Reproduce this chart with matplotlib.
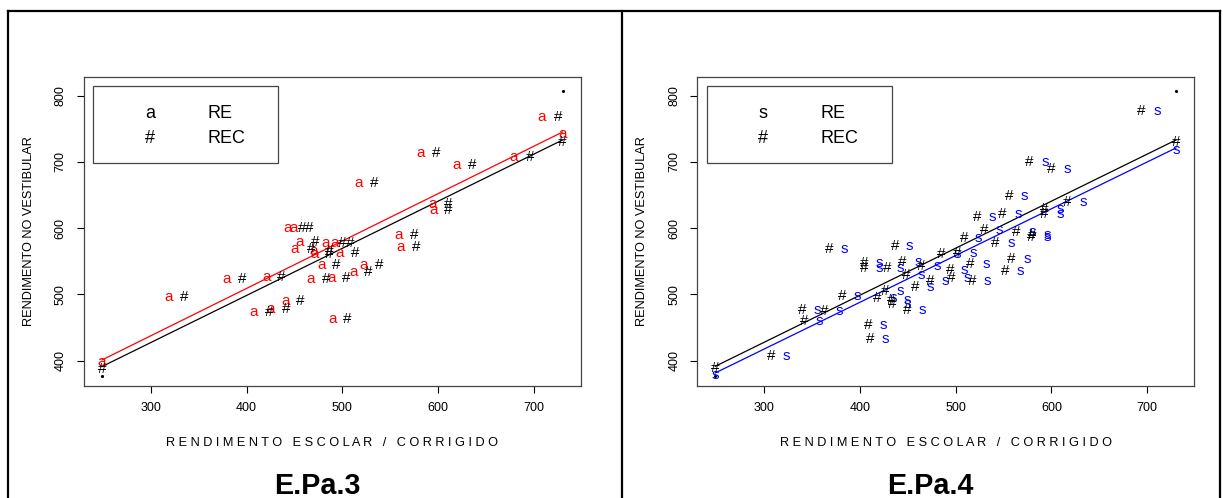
import matplotlib.pyplot as plt
from matplotlib.patches import Rectangle
from matplotlib.lines import Line2D

plt.rcParams['font.family'] = ['Liberation Sans', 'DejaVu Sans']

# E.Pa.3 : rendimento escolar (a = RE, # = REC) x rendimento no vestibular
pa3_re = [708, 581.5, 619.5, 679, 517.5, 594, 595, 442.5, 449.5, 455.5,
          450.5, 470, 471, 483, 492.5, 497.5, 478, 467, 489, 511.5,
          522, 558.5, 560.5, 379.5, 420.5, 318.5, 407, 425, 441, 489.5]
pa3_rec = [725, 598.5, 636, 696.5, 533.5, 611, 611, 458.5, 465, 472,
           467, 486, 486, 500, 508.5, 513, 494, 483, 504, 527.5,
           539, 575.5, 577, 395.5, 436.5, 334.5, 423.5, 441, 456.5, 505]
pa3_vest = [768, 713, 695.5, 707, 668, 637, 627, 600, 600, 579,
            568, 566, 561, 577, 577, 562, 544.5, 523, 524, 534,
            545, 589.5, 572, 522.5, 526, 495.5, 473.5, 478, 490, 463.5]
# retas ajustadas (extremos)
fit_x = [249, 730]
pa3_fit_re = [401, 745]
pa3_fit_rec = [391, 733]

# E.Pa.4 : # = REC, s = RE
pa4_rec = [307.5, 340, 363, 342, 381.5, 368, 408.5, 410.5, 404, 404,
           428, 444, 436.5, 458, 448, 464, 473, 418.5, 426.5, 433,
           434, 449.5, 485, 502, 494, 495.5, 515.5, 517, 508.5, 522,
           530, 541.5, 549, 555.5, 552, 558, 563, 580, 579, 577,
           600, 592, 592, 616, 694]
pa4_re = [323.5, 355, 378, 357.5, 397.5, 384, 424, 427, 420, 420,
          442.5, 460.5, 452, 474, 464, 481, 489.5, 435, 442, 449,
          449, 465, 501.5, 518.5, 509, 512, 531.5, 533.5, 524, 538,
          546, 558, 565, 572, 567.5, 575, 580, 596, 596, 594,
          616, 609, 609, 633, 711]
pa4_vest = [407, 476.5, 474.5, 460, 498, 568.5, 454, 432, 547, 540,
            540, 549.5, 573, 511, 528.5, 542.5, 520, 495, 505, 491,
            486, 477, 561, 562, 537.5, 525, 546.5, 519.5, 585.5, 617,
            596.5, 577, 622, 648, 536, 553.5, 594, 590, 586.5, 700,
            688.5, 629, 621, 639, 776]
pa4_fit_rec = [391.5, 733]
pa4_fit_re = [381.5, 721]

# pontos "." que fixam a escala
range_x = [249, 730]
range_y = [377, 807]

W, H = 1223, 498


def fx(px):
    return px / W


def fy(py):
    return 1 - py / H


def panel(fig, left, x_data, y_data, marks, colors, fits, title, leg_sym):
    ax = fig.add_axes([fx(left), fy(385.5), 497.5 / W, 308.5 / H])
    for xs, ch, col in zip(x_data, marks, colors):
        for x, y in zip(xs, y_data):
            ax.text(x, y, ch, color=col, fontsize=11, ha='center',
                    va='center')
    for fy_vals, ch, col in zip(fits, marks, colors):
        ax.plot(fit_x, fy_vals, color=col, lw=0.9)
        for x, y in zip(fit_x, fy_vals):
            ax.text(x, y - 3, ch, color=col, fontsize=11, ha='center',
                    va='center')
    ax.plot(range_x, range_y, '.', color='black', ms=2.5)
    ax.set_xlim(229.8, 749.2)
    ax.set_ylim(362.5, 828)
    ax.set_xticks([300, 400, 500, 600, 700])
    ax.set_yticks([400, 500, 600, 700, 800])
    ax.tick_params(length=5, width=0.8, labelsize=9, pad=7)
    for lab in ax.get_yticklabels():
        lab.set_rotation(90)
        lab.set_va('center')
    for s in ax.spines.values():
        s.set_color('#444444')
        s.set_linewidth(0.9)

    # legenda
    fig.patches.append(Rectangle((fx(left + 9.8), fy(163.3)), 185 / W,
                                 77.6 / H, transform=fig.transFigure,
                                 fill=False, ec='#444444', lw=0.9))
    for row, (sym, name) in enumerate(zip(leg_sym, ['RE', 'REC'])):
        yy = fy(113 + row * 25.7)
        fig.text(fx(left + 66.5), yy, sym, fontsize=13, ha='center',
                 va='center')
        fig.text(fx(left + 124), yy, name, fontsize=13, ha='left',
                 va='center')

    fig.text(fx(left + 249), fy(443),
             'R E N D I M E N T O   E S C O L A R   /   C O R R I G I D O',
             fontsize=9.2, ha='center', va='center')
    fig.text(fx(left - 54.5), fy(231), 'RENDIMENTO NO VESTIBULAR',
             fontsize=9.2, rotation=90, ha='center', va='center')
    fig.text(fx(left + 233.5), fy(494), title, fontsize=20.7,
             fontweight='bold', ha='center', va='baseline')
    return ax


def main():
    fig = plt.figure(figsize=(W / 100, H / 100), dpi=100)

    panel(fig, 83.5, [pa3_re, pa3_rec], pa3_vest, ['a', '#'],
          ['#ff0000', 'black'], [pa3_fit_re, pa3_fit_rec], 'E.Pa.3',
          ['a', '#'])
    panel(fig, 696.9, [pa4_re, pa4_rec], pa4_vest, ['s', '#'],
          ['#0000ff', 'black'], [pa4_fit_re, pa4_fit_rec], 'E.Pa.4',
          ['s', '#'])

    # moldura externa
    frame = [([8, 1220], [11, 11]), ([8, 8], [11, 498]),
             ([622.5, 622.5], [11, 498]), ([1220, 1220], [11, 498])]
    for xs, ys in frame:
        fig.add_artist(Line2D([fx(v) for v in xs], [fy(v) for v in ys],
                              color='black', lw=1.6))

    fig.savefig('out.png', dpi=100)


if __name__ == "__main__":
    main()
